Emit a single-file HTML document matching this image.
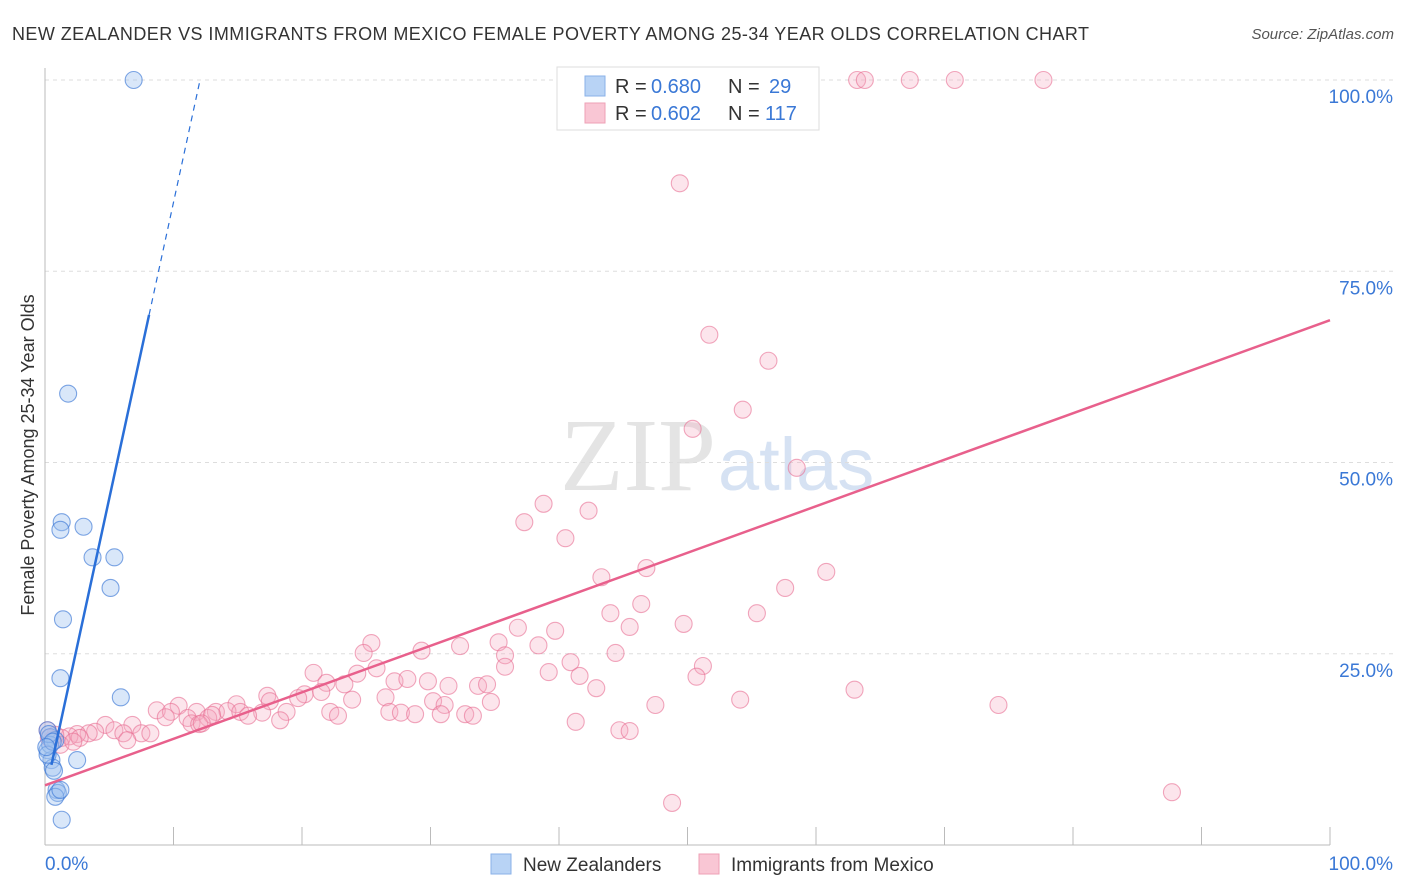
<!DOCTYPE html>
<html><head><meta charset="utf-8"><style>
body{margin:0;background:#fff;font-family:"Liberation Sans",sans-serif;}
svg{display:block}
</style></head><body>
<svg id="chart" width="1406" height="892" xmlns="http://www.w3.org/2000/svg">
<text x="12" y="40" font-size="18" fill="#333" textLength="1077" lengthAdjust="spacing">NEW ZEALANDER VS IMMIGRANTS FROM MEXICO FEMALE POVERTY AMONG 25-34 YEAR OLDS CORRELATION CHART</text>
<text x="1394" y="39" font-size="15" fill="#555" font-style="italic" text-anchor="end">Source: ZipAtlas.com</text>
<text x="716" y="490" font-size="104" fill="#e4e4e4" text-anchor="end" font-family="Liberation Serif,serif">ZIP</text>
<text x="718" y="490" font-size="74" fill="#d6e2f3">atlas</text>
<text transform="translate(34,455) rotate(-90)" font-size="18" fill="#333" text-anchor="middle">Female Poverty Among 25-34 Year Olds</text>
<g id="grid"></g><g id="marks"></g>
<g>
<rect x="557" y="67" width="262" height="63" fill="#fff" stroke="#ddd"/>
<rect x="585" y="76" width="20" height="20" fill="#b8d3f5" stroke="#8ab2e8"/>
<rect x="585" y="103" width="20" height="20" fill="#f9c6d4" stroke="#eea0b6"/>
<text x="615" y="93" font-size="20" fill="#333">R =</text><text x="651" y="93" font-size="20" fill="#3a78d6">0.680</text>
<text x="728" y="93" font-size="20" fill="#333">N =</text><text x="769" y="93" font-size="20" fill="#3a78d6">29</text>
<text x="615" y="120" font-size="20" fill="#333">R =</text><text x="651" y="120" font-size="20" fill="#3a78d6">0.602</text>
<text x="728" y="120" font-size="20" fill="#333">N =</text><text x="765" y="120" font-size="20" fill="#3a78d6">117</text>
</g>
<g>
<rect x="491" y="854" width="20" height="20" fill="#b8d3f5" stroke="#8ab2e8"/>
<text x="523" y="871" font-size="19" fill="#333">New Zealanders</text>
<rect x="699" y="854" width="20" height="20" fill="#f9c6d4" stroke="#eea0b6"/>
<text x="731" y="871" font-size="19" fill="#333">Immigrants from Mexico</text>
</g>
<text x="45" y="870" font-size="19" fill="#3a78d6">0.0%</text>
<text x="1393" y="870" font-size="19" fill="#3a78d6" text-anchor="end">100.0%</text>
</svg>
<script>
const yTicks=[100,75,50,25];
const yTickLabels=["100.0%","75.0%","50.0%","25.0%"];
const xTicks=[0,10,20,30,40,50,60,70,80,90,100];
const nzX=[6.9,1.8,1.3,1.2,3.0,3.7,5.4,5.1,1.4,1.2,5.9,0.2,0.4,0.8,0.2,0.5,0.6,0.7,2.5,0.9,1.0,0.8,1.2,1.3,0.4,0.2,0.3,0.6,0.1];
const nzY=[100,59.0,42.2,41.2,41.6,37.6,37.6,33.6,29.5,21.8,19.3,15.0,14.1,13.7,12.4,11.1,10.1,9.7,11.1,7.2,6.8,6.3,7.2,3.3,13.1,11.8,14.5,13.5,12.8];
const mxX=[63.2,63.8,67.3,70.8,77.7,49.4,51.7,56.3,54.3,50.4,58.5,38.8,37.3,42.3,40.5,46.8,43.3,60.8,57.6,44.0,46.4,55.4,36.8,45.5,49.7,39.7,35.3,38.4,25.4,29.3,44.4,51.2,35.8,24.8,40.9,32.3,39.2,35.8,20.9,24.3,25.8,27.2,28.2,29.8,21.9,23.3,41.6,50.7,42.9,63.0,31.4,33.7,34.4,17.3,20.2,21.5,26.5,19.7,17.5,14.9,18.8,23.9,30.2,31.1,34.7,54.1,74.2,47.5,10.4,8.7,9.8,11.8,13.3,14.2,15.2,16.9,15.8,22.2,22.8,26.8,27.7,28.8,30.8,32.7,33.3,18.3,11.1,12.7,13.0,11.4,12.0,12.2,9.4,41.3,44.7,45.5,6.8,4.7,5.4,3.9,6.1,3.4,2.5,1.9,1.3,0.5,0.8,0.2,1.2,2.7,7.5,8.2,6.4,2.2,48.8,87.7,0.3];
const mxY=[100,100,100,100,100,86.5,66.7,63.3,56.9,54.4,49.3,44.6,42.2,43.7,40.1,36.2,35.0,35.7,33.6,30.3,31.5,30.3,28.4,28.5,28.9,28.0,26.5,26.1,26.4,25.4,25.1,23.4,24.8,25.1,23.9,26.0,22.6,23.3,22.5,22.4,23.1,21.4,21.7,21.4,21.2,21.0,22.1,22.0,20.5,20.3,20.8,20.8,21.0,19.5,19.7,20.0,19.3,19.2,18.8,18.4,17.4,19.0,18.8,18.3,18.7,19.0,18.3,18.3,18.2,17.6,17.4,17.4,17.4,17.5,17.4,17.3,16.9,17.4,16.9,17.4,17.3,17.1,17.1,17.1,16.9,16.3,16.6,16.6,17.0,15.9,15.8,15.9,16.7,16.1,15.0,14.9,15.7,15.7,15.0,14.8,14.6,14.6,14.5,14.2,14.0,13.7,14.4,15.0,13.1,14.0,14.6,14.6,13.7,13.5,5.5,6.9,14.0];
const nzTrend=[6.6,7.74]; // intercept, slope
const mxTrend=[7.8,0.608];
const NS="http://www.w3.org/2000/svg";
const X0=45,X1=1330,Y0=845,Y100=80;
const sx=v=>X0+(X1-X0)*v/100, sy=v=>Y0-(Y0-Y100)*v/100;
function mk(t,a,p){const e=document.createElementNS(NS,t);for(const k in a)e.setAttribute(k,a[k]);p.appendChild(e);return e;}
const g=document.getElementById('grid'),m=document.getElementById('marks');
yTicks.forEach((t,i)=>{
 const l=mk('line',{x1:X0,x2:1394,y1:sy(t),y2:sy(t),stroke:'#ddd','stroke-dasharray':'4,4'},g);
 
 
 const tx=mk('text',{x:1393,y:sy(t)+23,'font-size':19,fill:'#3a78d6','text-anchor':'end'},g);tx.textContent=yTickLabels[i];
 
 
});
const ax=mk('line',{x1:X0,x2:X1,y1:Y0,y2:Y0,stroke:'#bbb'},g);


const ay=mk('line',{x1:X0,x2:X0,y1:68,y2:Y0,stroke:'#bbb'},g);


xTicks.forEach(t=>{const l=mk('line',{x1:sx(t),x2:sx(t),y1:827,y2:Y0,stroke:'#bbb'},g);
 
 });
mxX.forEach((x,i)=>{const c=mk('circle',{cx:sx(x),cy:sy(mxY[i]),r:8.5,fill:'rgba(246,170,192,0.3)',stroke:'rgba(232,110,146,0.6)','stroke-width':1.1},m);
 
 });
nzX.forEach((x,i)=>{const c=mk('circle',{cx:sx(x),cy:sy(nzY[i]),r:8.5,fill:'rgba(160,196,240,0.4)',stroke:'rgba(60,120,214,0.65)','stroke-width':1.1},m);
 
 });
const mt=mk('line',{x1:sx(0),y1:sy(mxTrend[0]),x2:sx(100),y2:sy(mxTrend[0]+mxTrend[1]*100),stroke:'#e8608c','stroke-width':2.5},m);


const xs=0.5,xe=8.1,xd=(100-nzTrend[0])/nzTrend[1];
const nt=mk('line',{x1:sx(xs),y1:sy(nzTrend[0]+nzTrend[1]*xs),x2:sx(xe),y2:sy(nzTrend[0]+nzTrend[1]*xe),stroke:'#2a6fd8','stroke-width':2.5},m);


const nd=mk('line',{x1:sx(xe),y1:sy(nzTrend[0]+nzTrend[1]*xe),x2:sx(xd),y2:sy(100),stroke:'#2a6fd8','stroke-width':1.2,'stroke-dasharray':'6,5'},m);


</script>
</body></html>
